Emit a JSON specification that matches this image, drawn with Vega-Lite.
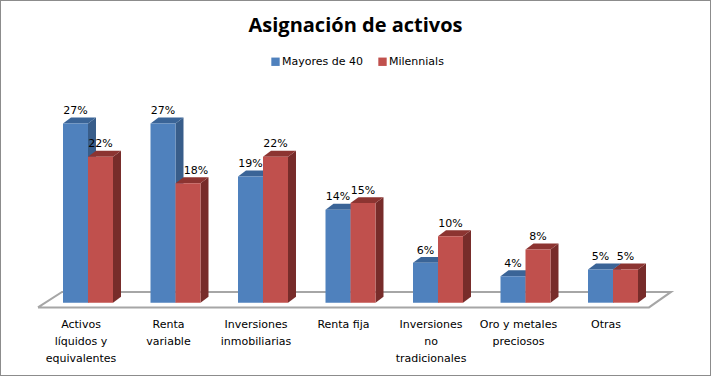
{"$schema":"https://vega.github.io/schema/vega-lite/v6.json","width":711,"height":376,"padding":0,"autosize":"none","background":"white","view":{"stroke":"#8c8c8c","strokeWidth":2,"fill":"white"},
"title":{"text":"Asignación de activos","font":"Open Sans","fontSize":20,"fontWeight":"bold","color":"#000000","anchor":"middle","offset":-36},
"datasets":{"bars":[
{"category":"Activos\nlíquidos y\nequivalentes","n":0,"series":"Mayores de 40","value":27},{"category":"Activos\nlíquidos y\nequivalentes","n":0,"series":"Milennials","value":22},
{"category":"Renta\nvariable","n":1,"series":"Mayores de 40","value":27},{"category":"Renta\nvariable","n":1,"series":"Milennials","value":18},
{"category":"Inversiones\ninmobiliarias","n":2,"series":"Mayores de 40","value":19},{"category":"Inversiones\ninmobiliarias","n":2,"series":"Milennials","value":22},
{"category":"Renta fija","n":3,"series":"Mayores de 40","value":14},{"category":"Renta fija","n":3,"series":"Milennials","value":15},
{"category":"Inversiones\nno\ntradicionales","n":4,"series":"Mayores de 40","value":6},{"category":"Inversiones\nno\ntradicionales","n":4,"series":"Milennials","value":10},
{"category":"Oro y metales\npreciosos","n":5,"series":"Mayores de 40","value":4},{"category":"Oro y metales\npreciosos","n":5,"series":"Milennials","value":8},
{"category":"Otras","n":6,"series":"Mayores de 40","value":5},{"category":"Otras","n":6,"series":"Milennials","value":5}]},
"layer":[
{"data":{"values":[{"plano":"suelo"}]},"transform":[{"calculate":"[0,1,2,3,4]","as":"k"},{"flatten":["k"]},{"calculate":"[0.434,7.417,7.669,0.709,0.434][datum.k]","as":"fx"},{"calculate":"[-0.71,-0.71,1.63,1.63,-0.71][datum.k]","as":"fy"}],
"mark":{"type":"line","stroke":"#a6a6a6","strokeWidth":2,"strokeJoin":"miter"},"encoding":{"x":{"field":"fx","type":"quantitative","axis":null,"scale":{"domain":[0,8.1257],"nice":false,"zero":false}},"y":{"field":"fy","type":"quantitative","axis":null,"scale":{"domain":[-11.04,45.59],"nice":false,"zero":false}},"order":{"field":"k","type":"quantitative"}}},
{"data":{"name":"bars"},"transform":[{"filter":"datum.series=='Mayores de 40'"},{"calculate":"0.72+datum.n+0.2857","as":"x1"},{"calculate":"[0,1,2,3]","as":"k"},{"flatten":["k"]},{"calculate":"[datum.x1,datum.x1+0.0914,datum.x1+0.0914,datum.x1][datum.k]","as":"ax"},{"calculate":"[0,0.9,datum.value+0.9,datum.value][datum.k]","as":"ay"}],
"mark":{"type":"line","fill":"#385d8a","stroke":null},"encoding":{"x":{"field":"ax","type":"quantitative","axis":null},"y":{"field":"ay","type":"quantitative","axis":null},"detail":{"field":"n","type":"nominal"},"order":{"field":"k","type":"quantitative"}}},
{"data":{"name":"bars"},"transform":[{"filter":"datum.series=='Mayores de 40'"},{"calculate":"0.72+datum.n","as":"x0"},{"calculate":"datum.x0+0.2857","as":"x1"},{"calculate":"[0,1,2,3]","as":"k"},{"flatten":["k"]},{"calculate":"[datum.x0,datum.x1,datum.x1+0.0914,datum.x0+0.0914][datum.k]","as":"ax"},{"calculate":"datum.value+(datum.k>1?0.9:0)","as":"ay"}],
"mark":{"type":"line","fill":"#3a6497","stroke":null},"encoding":{"x":{"field":"ax","type":"quantitative","axis":null},"y":{"field":"ay","type":"quantitative","axis":null},"detail":{"field":"n","type":"nominal"},"order":{"field":"k","type":"quantitative"}}},
{"data":{"name":"bars"},"transform":[{"filter":"datum.series=='Mayores de 40'"},{"calculate":"0.72+datum.n","as":"x0"},{"calculate":"datum.x0+0.2857","as":"x1"},{"calculate":"0","as":"base"}],"mark":{"type":"rect"},"encoding":{"x":{"field":"x0","type":"quantitative","axis":null},"x2":{"field":"x1"},"y":{"field":"base","type":"quantitative","axis":null},"y2":{"field":"value"},"color":{"field":"series","type":"nominal","scale":{"domain":["Mayores de 40","Milennials"],"range":["#4f81bd","#c0504d"]},"legend":{"orient":"none","legendX":270,"legendY":56,"direction":"horizontal","title":null,"symbolType":"square","symbolSize":70,"labelFont":"DejaVu Sans","labelFontSize":11,"labelColor":"#000000","labelOffset":1,"columnPadding":14,"symbolStrokeWidth":0}}}},
{"data":{"name":"bars"},"transform":[{"filter":"datum.series=='Milennials'"},{"calculate":"0.72+datum.n+0.5714","as":"x1"},{"calculate":"[0,1,2,3]","as":"k"},{"flatten":["k"]},{"calculate":"[datum.x1,datum.x1+0.0914,datum.x1+0.0914,datum.x1][datum.k]","as":"ax"},{"calculate":"[0,0.9,datum.value+0.9,datum.value][datum.k]","as":"ay"}],
"mark":{"type":"line","fill":"#772c2a","stroke":null},"encoding":{"x":{"field":"ax","type":"quantitative","axis":null},"y":{"field":"ay","type":"quantitative","axis":null},"detail":{"field":"n","type":"nominal"},"order":{"field":"k","type":"quantitative"}}},
{"data":{"name":"bars"},"transform":[{"filter":"datum.series=='Milennials'"},{"calculate":"0.72+datum.n+0.2857","as":"x0"},{"calculate":"datum.x0+0.2857","as":"x1"},{"calculate":"[0,1,2,3]","as":"k"},{"flatten":["k"]},{"calculate":"[datum.x0,datum.x1,datum.x1+0.0914,datum.x0+0.0914][datum.k]","as":"ax"},{"calculate":"datum.value+(datum.k>1?0.9:0)","as":"ay"}],
"mark":{"type":"line","fill":"#8c3431","stroke":null},"encoding":{"x":{"field":"ax","type":"quantitative","axis":null},"y":{"field":"ay","type":"quantitative","axis":null},"detail":{"field":"n","type":"nominal"},"order":{"field":"k","type":"quantitative"}}},
{"data":{"name":"bars"},"transform":[{"filter":"datum.series=='Milennials'"},{"calculate":"0.72+datum.n+0.2857","as":"x0"},{"calculate":"datum.x0+0.2857","as":"x1"},{"calculate":"0","as":"base"}],"mark":{"type":"rect"},"encoding":{"x":{"field":"x0","type":"quantitative","axis":null},"x2":{"field":"x1"},"y":{"field":"base","type":"quantitative","axis":null},"y2":{"field":"value"},"color":{"field":"series","type":"nominal"}}},
{"data":{"name":"bars"},"transform":[{"calculate":"0.72+datum.n+0.1429+(datum.series=='Milennials'?0.2857:0)+(datum.series=='Milennials'&&datum.n==1?0.09:0)","as":"cx"},{"calculate":"datum.value+1.1","as":"ty"},{"calculate":"datum.value/100","as":"share"}],"mark":{"type":"text","font":"DejaVu Sans","fontSize":11,"baseline":"bottom","color":"#000000","align":"center"},"encoding":{"x":{"field":"cx","type":"quantitative","axis":null},"y":{"field":"ty","type":"quantitative","axis":null},"text":{"field":"share","type":"quantitative","format":".0%"}}},
{"data":{"name":"bars"},"transform":[{"filter":"datum.series=='Milennials'"},{"calculate":"0.72+datum.n+0.2057","as":"cx"},{"calculate":"-2.45","as":"ty"}],"mark":{"type":"text","font":"DejaVu Sans","fontSize":11,"baseline":"top","align":"center","color":"#000000","lineBreak":"\n","lineHeight":17},"encoding":{"x":{"field":"cx","type":"quantitative","axis":null},"y":{"field":"ty","type":"quantitative","axis":null},"text":{"field":"category","type":"nominal"}}}
]}
